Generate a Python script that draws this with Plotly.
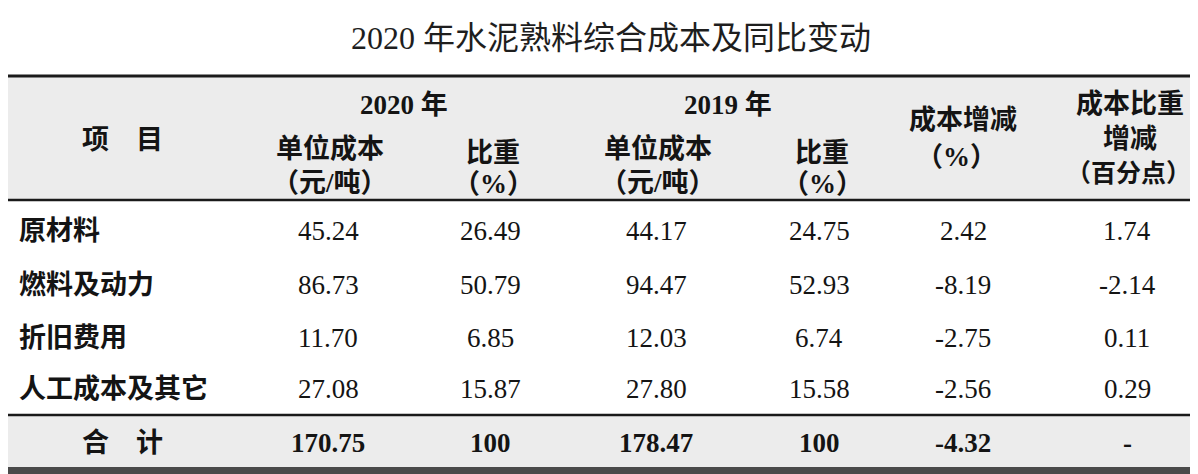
import plotly.graph_objects as go

# data
title = "2020 年水泥熟料综合成本及同比变动"
items = ["原材料", "燃料及动力", "折旧费用", "人工成本及其它"]
cost_2020 = ["45.24", "86.73", "11.70", "27.08"]
share_2020 = ["26.49", "50.79", "6.85", "15.87"]
cost_2019 = ["44.17", "94.47", "12.03", "27.80"]
share_2019 = ["24.75", "52.93", "6.74", "15.58"]
cost_change = ["2.42", "-8.19", "-2.75", "-2.56"]
share_change = ["1.74", "-2.14", "0.11", "0.29"]
total_label = "合　计"
total_row = ["170.75", "100", "178.47", "100", "-4.32", "-"]

W, H = 1198, 474
OFF = 8  # page body margin
FONT = "Liberation Serif, Noto Sans CJK SC"
INK = "#141414"
GRAY = "#ececec"

col_x = [328, 490, 656, 819, 963, 1127]
row_y = [231, 285, 338, 389]
total_y = 443

fig = go.Figure()
fig.add_trace(go.Scatter(x=[OFF], y=[OFF], mode="markers", marker=dict(opacity=0),
                         hoverinfo="skip", showlegend=False))

shapes = [
    dict(type="rect", x0=5, x1=W, y0=76, y1=200, fillcolor=GRAY, line_width=0, layer="below"),
    dict(type="rect", x0=5, x1=W, y0=415, y1=467, fillcolor=GRAY, line_width=0, layer="below"),
    dict(type="rect", x0=5, x1=W, y0=467, y1=H, fillcolor="#4a4a4a", line_width=0),
    dict(type="line", x0=5, x1=W, y0=76, y1=76, line=dict(color="#1a1a1a", width=3)),
    dict(type="line", x0=5, x1=W, y0=200, y1=200, line=dict(color="#1a1a1a", width=2.5)),
    dict(type="line", x0=5, x1=W, y0=415, y1=415, line=dict(color="#1a1a1a", width=2.5)),
]

ann = []


def txt(x, y, s, size=26, bold=False, xanchor="center", color=INK):
    ann.append(dict(x=x, y=y, xref="x", yref="y", text=f"<b>{s}</b>" if bold else s,
                    showarrow=False, xanchor=xanchor, yanchor="middle",
                    font=dict(family=FONT, size=size, color=color)))


txt(611, 38, title, size=32, color="#1e1e1e")

# header
txt(122, 140, "项　目", size=27, bold=True)
txt(404, 105, "2020 年", size=27, bold=True)
txt(728, 105, "2019 年", size=27, bold=True)
for cx in (col_x[0], col_x[2]):
    txt(cx + 2, 148, "单位成本", size=27, bold=True)
    txt(cx + 2, 183, "（元/吨）", size=27, bold=True)
for cx in (col_x[1], col_x[3]):
    txt(cx + 3, 153, "比重", size=27, bold=True)
    txt(cx + 3, 184, "（%）", size=27, bold=True)
txt(963, 120, "成本增减", size=27, bold=True)
txt(956, 157, "（%）", size=27, bold=True)
txt(1130, 104, "成本比重", size=27, bold=True)
txt(1130, 139, "增减", size=27, bold=True)
txt(1128, 173, "（百分点）", size=25, bold=True)

# body
cols = [cost_2020, share_2020, cost_2019, share_2019, cost_change, share_change]
for i, name in enumerate(items):
    txt(17, row_y[i], name, size=27, bold=True, xanchor="left")
    for cx, col in zip(col_x, cols):
        txt(cx, row_y[i], col[i], size=27)

txt(122, total_y, total_label, size=27, bold=True)
for cx, v in zip(col_x, total_row):
    txt(cx, total_y, v, size=27, bold=True)

fig.update_layout(
    width=W - OFF, height=H - OFF,
    margin=dict(l=0, r=0, t=0, b=0),
    paper_bgcolor="white", plot_bgcolor="white",
    xaxis=dict(range=[OFF, W], visible=False, fixedrange=True),
    yaxis=dict(range=[H, OFF], visible=False, fixedrange=True),
    shapes=shapes, annotations=ann,
)

fig.write_html("out.html")
